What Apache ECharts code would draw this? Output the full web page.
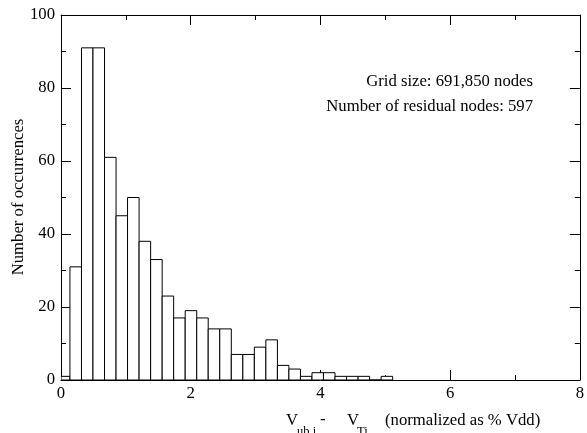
<!DOCTYPE html>
<html>
<head>
<meta charset="utf-8">
<script src="https://cdn.jsdelivr.net/npm/echarts@6/dist/echarts.min.js"></script>
<style>
  html, body { margin: 0; padding: 0; background: #fff; }
  #chart { width: 587px; height: 433px; }
</style>
</head>
<body>
<div id="chart"></div>
<script>
  // bin edges (x, % Vdd) and counts per bin
  const binEdges = [0, 0.138, 0.316, 0.493, 0.671, 0.849, 1.026, 1.204, 1.382, 1.560,
    1.737, 1.915, 2.093, 2.270, 2.448, 2.626, 2.804, 2.981, 3.159, 3.337,
    3.514, 3.692, 3.870, 4.047, 4.225, 4.403, 4.581, 4.758, 4.936, 5.114];
  const counts = [1, 31, 91, 91, 61, 45, 50, 38, 33, 23, 17, 19, 17, 14, 14,
    7, 7, 9, 11, 4, 3, 1, 2, 2, 1, 1, 1, 0, 1];
  const notes = ['Grid size: 691,850 nodes', 'Number of residual nodes: 597'];

  const serif = '"Liberation Serif", "DejaVu Serif", serif';
  const fs = 16.7;

  let bins = counts.map((c, i) => [binEdges[i], binEdges[i + 1], c]);

  let chart = echarts.init(document.getElementById('chart'));

  const frameAxis = {
    type: 'value',
    axisLine: { show: true, onZero: false, lineStyle: { color: '#000', width: 1 } },
    axisTick: { show: true, inside: true, length: 10, lineStyle: { color: '#000' } },
    minorTick: { show: true, splitNumber: 2, length: 5, lineStyle: { color: '#000' } },
    splitLine: { show: false },
    axisLabel: { color: '#000', fontFamily: serif, fontSize: fs }
  };

  function txt(text, x, y, size, extra) {
    return Object.assign({ type: 'text', x: x, y: y,
      style: { text: text, font: size + 'px ' + serif, fill: '#000', verticalAlign: 'middle' } }, extra || {});
  }

  chart.setOption({
    animation: false,
    grid: { left: 61, right: 6, top: 15, bottom: 53, containLabel: false },
    xAxis: [
      Object.assign({}, frameAxis, { min: 0, max: 8, interval: 2, position: 'bottom',
        axisLabel: Object.assign({}, frameAxis.axisLabel, { margin: 5 }) }),
      Object.assign({}, frameAxis, { min: 0, max: 8, interval: 2, position: 'top',
        axisLabel: { show: false } })
    ],
    yAxis: [
      Object.assign({}, frameAxis, { min: 0, max: 100, interval: 20, position: 'left',
        axisLabel: Object.assign({}, frameAxis.axisLabel, { margin: 6 }) }),
      Object.assign({}, frameAxis, { min: 0, max: 100, interval: 20, position: 'right',
        axisLabel: { show: false } })
    ],
    series: [{
      type: 'custom',
      data: bins,
      encode: { x: [0, 1], y: 2 },
      clip: true,
      renderItem: function (params, api) {
        let p0 = api.coord([api.value(0), api.value(2)]);
        let p1 = api.coord([api.value(1), 0]);
        return {
          type: 'rect',
          shape: { x: p0[0], y: p0[1], width: p1[0] - p0[0], height: p1[1] - p0[1] },
          style: { fill: '#fff', stroke: '#000', lineWidth: 1 }
        };
      }
    }],
    graphic: [
      { type: 'text', x: 533, y: 82,
        style: { text: notes[0], font: fs + 'px ' + serif, fill: '#000', align: 'right', verticalAlign: 'middle' } },
      { type: 'text', x: 533, y: 107,
        style: { text: notes[1], font: fs + 'px ' + serif, fill: '#000', align: 'right', verticalAlign: 'middle' } },
      { type: 'text', x: 19, y: 197, rotation: Math.PI / 2,
        style: { text: 'Number of occurrences', font: fs + 'px ' + serif, fill: '#000',
          align: 'center', verticalAlign: 'middle' } },
      txt('V', 286, 421, fs),
      txt('ub,i', 297, 432, 12.5),
      txt('-', 320, 420, fs),
      txt('V', 347, 421, fs),
      txt('Ti', 357, 432, 12.5),
      txt('(normalized as % Vdd)', 385, 421, fs)
    ]
  });
</script>
</body>
</html>
